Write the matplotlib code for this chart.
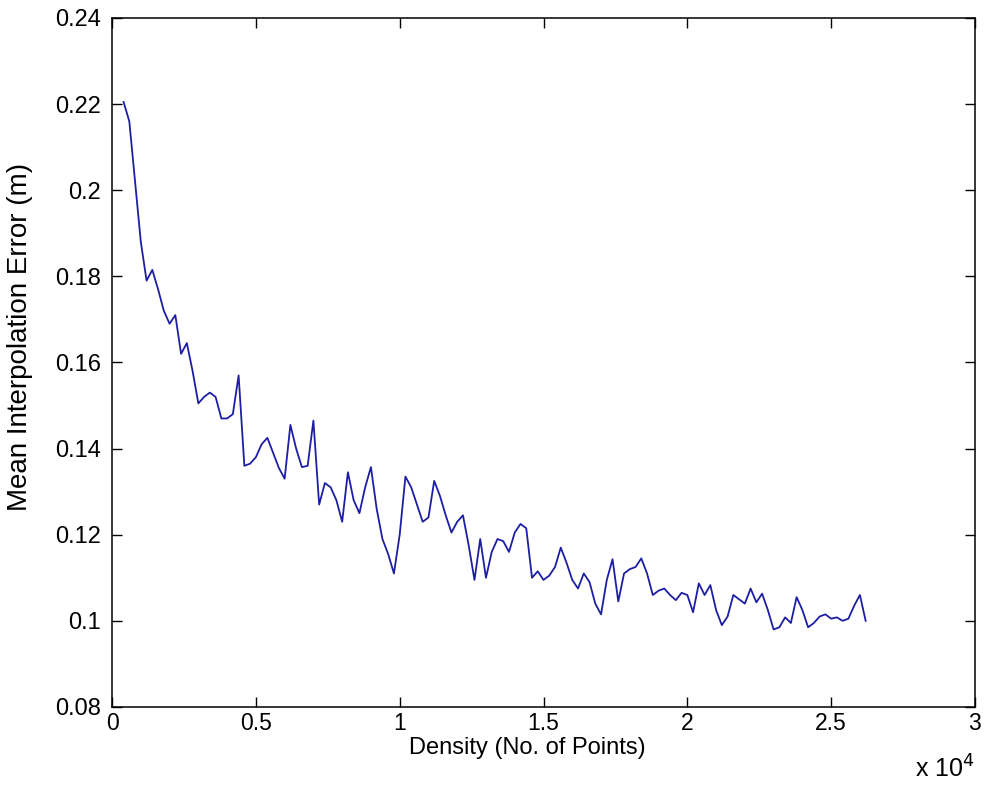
import numpy as np
import matplotlib
matplotlib.use("Agg")
import matplotlib.pyplot as plt
from matplotlib.ticker import FuncFormatter

# densita' (numero di punti), passo di 200 punti
density = np.arange(400, 26201, 200)
# errore medio di interpolazione [m]
mean_err = [
    0.2205, 0.216, 0.202, 0.188, 0.179, 0.1815, 0.177, 0.172, 0.169, 0.171,
    0.162, 0.1645, 0.158, 0.1505, 0.152, 0.153, 0.152, 0.147, 0.147, 0.148,
    0.157, 0.136, 0.1365, 0.138, 0.141, 0.1425, 0.139, 0.1355, 0.133, 0.1455,
    0.140, 0.1357, 0.136, 0.1465, 0.127, 0.132, 0.131, 0.128, 0.123, 0.1345,
    0.128, 0.125, 0.131, 0.1357, 0.126, 0.119, 0.1155, 0.111, 0.120, 0.1335,
    0.131, 0.127, 0.123, 0.124, 0.1325, 0.129, 0.1245, 0.1205, 0.123, 0.1245,
    0.1175, 0.1095, 0.119, 0.110, 0.116, 0.119, 0.1185, 0.116, 0.1205, 0.1225,
    0.1215, 0.110, 0.1115, 0.1095, 0.1105, 0.1125, 0.117, 0.1135, 0.1095, 0.1075,
    0.111, 0.109, 0.104, 0.1015, 0.1095, 0.1143, 0.1045, 0.111, 0.112, 0.1125,
    0.1145, 0.111, 0.106, 0.107, 0.1075, 0.106, 0.1048, 0.1065, 0.106, 0.102,
    0.1087, 0.106, 0.1083, 0.1025, 0.099, 0.101, 0.106, 0.105, 0.104, 0.1075,
    0.1043, 0.1063, 0.1025, 0.098, 0.0985, 0.1008, 0.0995, 0.1055, 0.1025, 0.0985,
    0.0995, 0.101, 0.1015, 0.1005, 0.1008, 0.100, 0.1005, 0.1035, 0.106, 0.100,
]
xticks = [0, 5000, 10000, 15000, 20000, 25000, 30000]
yticks = [0.08, 0.10, 0.12, 0.14, 0.16, 0.18, 0.20, 0.22, 0.24]

plt.rcParams['font.family'] = ['Liberation Sans', 'DejaVu Sans']

fig = plt.figure(figsize=(9.89, 7.89), dpi=100)
ax = fig.add_axes([0.1133, 0.104, 0.8725, 0.8732])
ax.plot(density, mean_err, color='#1e1ea4', lw=1.3)

ax.set_xlim(0, 30000)
ax.set_ylim(0.08, 0.24)
ax.set_xticks(xticks)
ax.set_yticks(yticks)
ax.xaxis.set_major_formatter(FuncFormatter(lambda v, p: ('%g' % (v / 1e4))))
ax.yaxis.set_major_formatter(FuncFormatter(lambda v, p: ('%g' % round(v, 2))))
ax.tick_params(direction='in', length=7, width=1, top=True, right=True)
ax.tick_params(axis='y', pad=8, labelsize=17)
ax.tick_params(axis='x', pad=4, labelsize=16.5)
for s in ax.spines.values():
    s.set_linewidth(1.1)

ax.set_xlabel("Density (No. of Points)", fontsize=17)
ax.xaxis.set_label_coords(0.481, -0.043)
ax.set_ylabel("Mean Interpolation Error (m)", fontsize=20)
ax.yaxis.set_label_coords(-0.092, 0.537)
ax.text(1.0, -0.09, r'x 10$^4$', transform=ax.transAxes, ha='right', va='center',
        fontsize=18)

fig.savefig("out.png", dpi=100, facecolor='white')
